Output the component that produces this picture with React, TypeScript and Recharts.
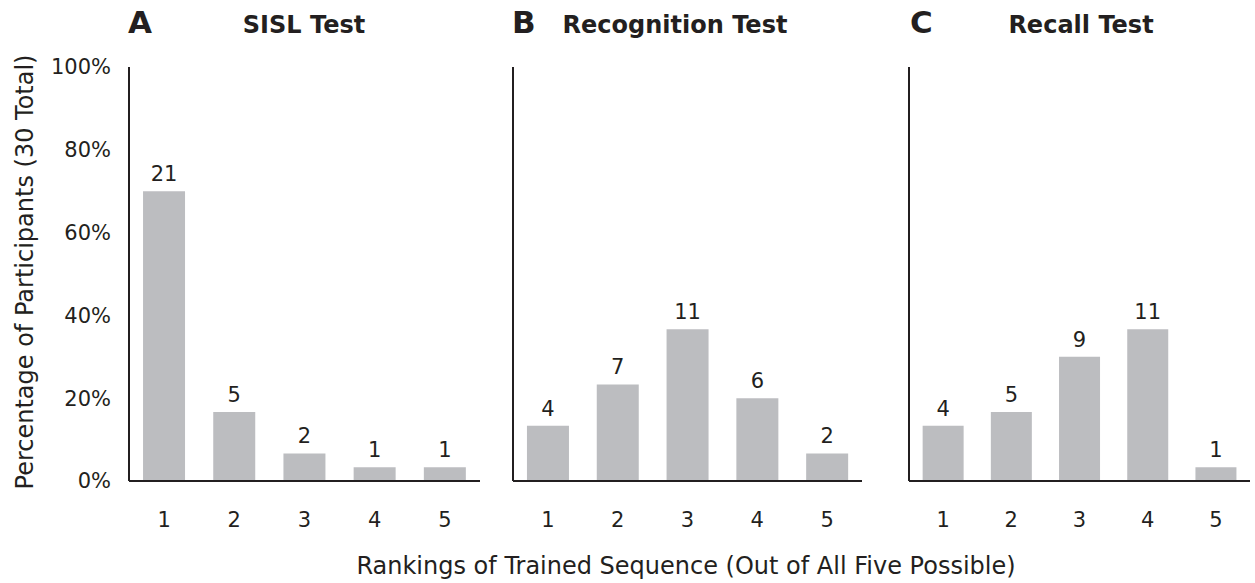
import { BarChart, Bar, XAxis, YAxis, LabelList } from 'recharts';

const rankings = ['1', '2', '3', '4', '5'];
const sislCounts = [21, 5, 2, 1, 1];
const recognitionCounts = [4, 7, 11, 6, 2];
const recallCounts = [4, 5, 9, 11, 1];
const totalParticipants = 30;
const yTicks = [0, 20, 40, 60, 80, 100];

const FONT = '"DejaVu Sans", Verdana, sans-serif';
const INK = '#231f20';
const BAR = '#bcbdc0';

function toRows(counts: number[]) {
  return rankings.map((rank, i) => ({
    rank,
    count: counts[i],
    pct: (counts[i] / totalParticipants) * 100,
  }));
}

interface PanelProps {
  counts: number[];
  left: number;
  width: number;
  yAxisWidth: number;
  rightMargin: number;
  showYTicks: boolean;
}

function Panel({ counts, left, width, yAxisWidth, rightMargin, showYTicks }: PanelProps) {
  return (
    <div style={{ position: 'absolute', left, top: 0 }}>
      <BarChart
        width={width}
        height={583}
        data={toRows(counts)}
        margin={{ top: 67, right: rightMargin, left: 0, bottom: 62 }}
        barCategoryGap="20%"
      >
        <XAxis
          dataKey="rank"
          height={40}
          tickLine={false}
          axisLine={{ stroke: INK, strokeWidth: 2 }}
          tickMargin={25}
          tick={{ fill: INK, fontSize: 21, fontFamily: FONT }}
        />
        <YAxis
          width={yAxisWidth}
          domain={[0, 100]}
          ticks={yTicks}
          tickLine={false}
          axisLine={{ stroke: INK, strokeWidth: 2 }}
          tickSize={0}
          tickMargin={18}
          tick={showYTicks ? { fill: INK, fontSize: 21, fontFamily: FONT } : false}
          tickFormatter={(v) => `${v}%`}
        />
        <Bar dataKey="pct" fill={BAR} isAnimationActive={false}>
          <LabelList
            dataKey="count"
            position="top"
            offset={10}
            fill={INK}
            fontSize={21}
            fontFamily={FONT}
          />
        </Bar>
      </BarChart>
    </div>
  );
}

export default function App() {
  return (
    <div style={{ position: 'absolute', left: 0, top: 0, width: 1255, height: 583, background: '#fff' }}>
      <Panel counts={sislCounts} left={0} width={500} yAxisWidth={129} rightMargin={20} showYTicks />
      <Panel counts={recognitionCounts} left={480} width={400} yAxisWidth={33} rightMargin={18} showYTicks={false} />
      <Panel counts={recallCounts} left={876} width={379} yAxisWidth={33} rightMargin={5} showYTicks={false} />
      <svg width={1255} height={583} style={{ position: 'absolute', left: 0, top: 0, pointerEvents: 'none' }}>
        <g fontFamily={FONT} fill={INK} fontWeight="bold">
          <text x={128} y={33} fontSize={31}>A</text>
          <text x={304} y={33} fontSize={24} textAnchor="middle">SISL Test</text>
          <text x={512} y={33} fontSize={31}>B</text>
          <text x={675} y={33} fontSize={24} textAnchor="middle">Recognition Test</text>
          <text x={910} y={33} fontSize={31}>C</text>
          <text x={1081} y={33} fontSize={24} textAnchor="middle">Recall Test</text>
        </g>
        <g fontFamily={FONT} fill={INK} fontSize={24}>
          <text x={686} y={574} textAnchor="middle">Rankings of Trained Sequence (Out of All Five Possible)</text>
          <text x={33} y={272} textAnchor="middle" transform="rotate(-90 33 272)">Percentage of Participants (30 Total)</text>
        </g>
      </svg>
    </div>
  );
}
